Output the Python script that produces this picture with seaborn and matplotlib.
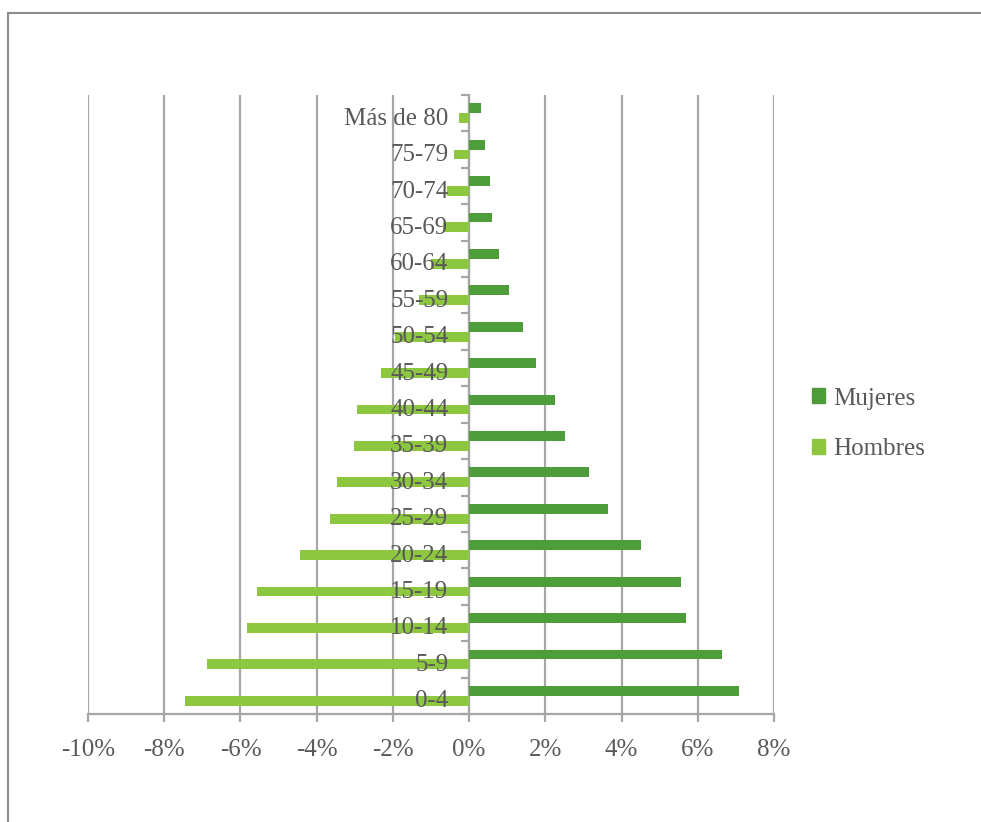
import matplotlib
matplotlib.use("Agg")
import matplotlib.pyplot as plt
from matplotlib.patches import Rectangle
from matplotlib.ticker import FixedLocator, FuncFormatter
from matplotlib.transforms import ScaledTranslation
import numpy as np
import pandas as pd
import seaborn as sns

# Age groups, oldest first (top of the pyramid)
grupos = ["Más de 80", "75-79", "70-74", "65-69", "60-64", "55-59", "50-54",
          "45-49", "40-44", "35-39", "30-34", "25-29", "20-24", "15-19",
          "10-14", "5-9", "0-4"]
# Share of total population (%), women positive, men negative
mujeres = [0.30, 0.42, 0.54, 0.60, 0.79, 1.04, 1.41, 1.76, 2.26, 2.52,
           3.14, 3.65, 4.51, 5.57, 5.70, 6.64, 7.07]
hombres = [-0.26, -0.39, -0.57, -0.69, -0.99, -1.31, -1.94, -2.32, -2.95,
           -3.02, -3.46, -3.65, -4.45, -5.57, -5.82, -6.89, -7.45]
series = ["Mujeres", "Hombres"]
x_ticks = [-10, -8, -6, -4, -2, 0, 2, 4, 6, 8]

colores = {"Mujeres": "#4E9D3A", "Hombres": "#8DC63F"}
gris_texto = "#595959"
gris_linea = "#A6A6A6"

df = pd.DataFrame({
    "grupo": grupos * 2,
    "valor": mujeres + hombres,
    "sexo": ["Mujeres"] * len(grupos) + ["Hombres"] * len(grupos),
})

sns.set_theme(style="white")
plt.rcParams["font.family"] = ["Liberation Serif", "DejaVu Serif"]

fig = plt.figure(figsize=(9.81, 8.22), dpi=100)
ax = fig.add_axes([88 / 981, 108 / 822, 686 / 981, 619 / 822])

sns.barplot(data=df, y="grupo", x="valor", hue="sexo", order=grupos,
            hue_order=series, palette=colores, orient="h", width=0.54,
            saturation=1, ax=ax, legend=False, edgecolor="none")

ax.set_xlim(x_ticks[0], x_ticks[-1])
ax.set_ylim(len(grupos) - 0.5, -0.5)
ax.set_xlabel("")
ax.set_ylabel("")

# vertical gridlines behind the bars
ax.xaxis.set_major_locator(FixedLocator(x_ticks))
ax.xaxis.set_major_formatter(FuncFormatter(lambda v, p: f"{v:.0f}%"))
ax.grid(axis="x", color=gris_linea, linewidth=1.6)
ax.grid(axis="y", visible=False)
ax.set_axisbelow(True)

# category axis sits on the zero line
for s in ["top", "right"]:
    ax.spines[s].set_visible(False)
ax.spines["left"].set_position(("data", 0))
ax.spines["left"].set_color(gris_linea)
ax.spines["left"].set_linewidth(1.6)
ax.spines["bottom"].set_color(gris_linea)
ax.spines["bottom"].set_linewidth(1.6)
ax.spines["left"].set_zorder(0.6)

ax.set_yticks(range(len(grupos)))
ax.set_yticklabels(grupos)
ax.tick_params(axis="y", which="major", length=0, pad=15,
               labelsize=18, labelcolor=gris_texto)
ax.yaxis.set_minor_locator(FixedLocator(np.arange(-0.5, len(grupos), 1.0)))
ax.tick_params(axis="y", which="minor", length=6, width=1.6,
               color=gris_linea, direction="out", left=True)
ax.tick_params(axis="x", which="major", length=6, width=1.6,
               color=gris_linea, direction="out", bottom=True, pad=12,
               labelsize=18, labelcolor=gris_texto)
# category labels are written over the bars, a touch below centre
ax.yaxis.set_zorder(5)
shift = ScaledTranslation(0, -3 / 100, fig.dpi_scale_trans)
for lbl in ax.get_yticklabels():
    lbl.set_transform(lbl.get_transform() + shift)

# legend on the right
handles = [Rectangle((0, 0), 1, 1, color=colores[s]) for s in series]
fig.legend(handles, series, loc="center left",
           bbox_to_anchor=(812 / 981, 1 - 424 / 822), frameon=False,
           handlelength=0.52, handleheight=0.52, handletextpad=0.33,
           labelspacing=1.15, borderpad=0, borderaxespad=0,
           fontsize=18, labelcolor=gris_texto)

# chart frame
fig.patches.append(Rectangle((8 / 981, -0.1), 1.2, 1.1 - 13 / 822,
                             transform=fig.transFigure, fill=False,
                             edgecolor="#8C8C8C", linewidth=1.5))

fig.savefig("out.png", dpi=100)
